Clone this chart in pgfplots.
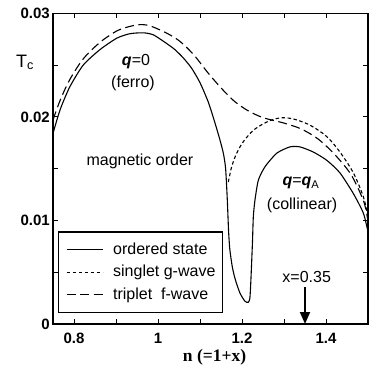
\documentclass[border=0pt]{standalone}
\usepackage{fontspec}
\setmainfont{Liberation Sans}
\newfontfamily\timesfont{Liberation Serif}
\usepackage{pgfplots}
\pgfplotsset{compat=1.18}
\usetikzlibrary{arrows.meta}
\begin{document}
\begin{tikzpicture}
\begin{axis}[
  at={(0pt,0pt)}, anchor=south west,
  scale only axis, width=315pt, height=310.7pt,
  xmin=0.75, xmax=1.5, ymin=0, ymax=0.03,
  scaled y ticks=false, scaled x ticks=false,
  xtick={0.8,1,1.2,1.4}, xticklabels={0.8,1,1.2,1.4},
  minor xtick={0.9,1.1,1.3,1.5},
  ytick={0,0.01,0.02,0.03}, yticklabels={0,0.01,0.02,0.03},
  minor ytick={0.005,0.015,0.025},
  tick align=inside,
  major tick length=5pt, minor tick length=5pt,
  every tick/.style={black, line width=0.9pt},
  axis line style={line width=1.1pt},
  /pgf/number format/assume math mode=true,
  ticklabel style={font=\fontsize{15}{18}\selectfont\bfseries},
  yticklabel style={inner sep=3pt},
  xticklabel style={inner sep=0pt, yshift=-9pt},
  xlabel={\timesfont\bfseries n (=1+x)},
  every axis x label/.style={at={(axis description cs:0.513,0)}, anchor=center, yshift=-33pt, font=\fontsize{17.5}{20}\selectfont},
  ylabel={T\textsubscript{c}},
  every axis y label/.style={at={(axis description cs:-0.089,0.842)}, anchor=center, font=\fontsize{18}{21}\selectfont},
  legend cell align=left,
  legend image code/.code={\draw[#1] (0pt,0pt) -- (36pt,0pt);},
  legend style={at={(rel axis cs:0.0159,0.0354)}, anchor=south west, draw=black, line width=1.1pt,
    font=\fontsize{16}{19}\selectfont, inner xsep=7.5pt, inner ysep=10pt, row sep=7pt, column sep=10pt,
    nodes={inner sep=0pt, text height=12.5pt, text depth=3pt}},
]
% ordered state
\addplot[black, line width=1.1pt, smooth, tension=0.4] coordinates {
(0.75,0.0184) (0.767,0.0207) (0.79,0.0229) (0.822,0.0250) (0.862,0.0265) (0.902,0.0276)
(0.93,0.0280) (0.95,0.0281) (0.97,0.0281) (0.99,0.0279) (1.02,0.0271) (1.04,0.0265)
(1.06,0.0257) (1.08,0.0247) (1.10,0.0233) (1.12,0.0214) (1.135,0.0195) (1.148,0.0177)
(1.156,0.0164) (1.161,0.0150) (1.165,0.0120) (1.168,0.0090) (1.171,0.0072) (1.177,0.0055)
(1.184,0.0043) (1.195,0.0030) (1.207,0.0022) (1.215,0.0021) (1.219,0.0026) (1.222,0.0050)
(1.225,0.0080) (1.227,0.0104) (1.231,0.0120) (1.239,0.0139) (1.255,0.0152) (1.283,0.0165)
(1.314,0.0171) (1.338,0.0171) (1.37,0.0166) (1.402,0.0158) (1.433,0.0146) (1.465,0.0126)
(1.489,0.0107) (1.5,0.0089)
};
\addlegendentry{ordered state}
% singlet g-wave
\addplot[black, line width=1.1pt, dash pattern=on 3.5pt off 2.5pt, smooth, tension=0.5] coordinates {
(1.1674,0.0137) (1.1755,0.0152) (1.1874,0.0165) (1.2031,0.0176) (1.2269,0.0187) (1.2588,0.0195)
(1.2905,0.0199) (1.3221,0.0198) (1.3619,0.0192) (1.4017,0.0181) (1.4333,0.0166) (1.465,0.0146)
(1.4888,0.0123) (1.5,0.0104)
};
\addlegendentry{singlet g-wave}
% triplet f-wave
\addplot[black, line width=1.1pt, dash pattern=on 9pt off 4.5pt, smooth, tension=0.5] coordinates {
(0.75,0.0197) (0.767,0.0216) (0.79,0.0236) (0.822,0.0256) (0.862,0.0272) (0.902,0.0283)
(0.93,0.0287) (0.955,0.0289) (0.98,0.0288) (1.02,0.0281) (1.052,0.0273) (1.085,0.0260)
(1.118,0.0243) (1.15,0.0228) (1.182,0.0215) (1.214,0.0206) (1.245,0.0200) (1.27,0.0197)
(1.3,0.0194) (1.34,0.01885) (1.38,0.0179) (1.42,0.0164) (1.46,0.0144) (1.49,0.0118) (1.5,0.0099)
};
\addlegendentry{triplet\ \ f-wave}
\node[font=\fontsize{16}{19}\selectfont] at (axis cs:0.9476,0.0253) {\textbf{\textit{q}}=0};
\node[font=\fontsize{16}{19}\selectfont] at (axis cs:0.9405,0.0232) {(ferro)};
\node[font=\fontsize{16}{19}\selectfont] at (axis cs:0.957,0.0157) {magnetic order};
\node[font=\fontsize{16}{19}\selectfont] at (axis cs:1.3405,0.0136) {\textbf{\textit{q}}=\textbf{\textit{q}}\textsubscript{A}};
\node[font=\fontsize{16}{19}\selectfont] at (axis cs:1.343,0.0115) {(collinear)};
\node[font=\fontsize{16}{19}\selectfont] at (axis cs:1.354,0.00454) {x=0.35};
\draw[line width=1.8pt, -{Triangle[length=12pt,width=10pt]}] (axis cs:1.35,0.00357) -- (axis cs:1.35,0);
\end{axis}
\pgfresetboundingbox
\path[use as bounding box] (-53pt,-45pt) rectangle (318pt,324pt);
\end{tikzpicture}
\end{document}
